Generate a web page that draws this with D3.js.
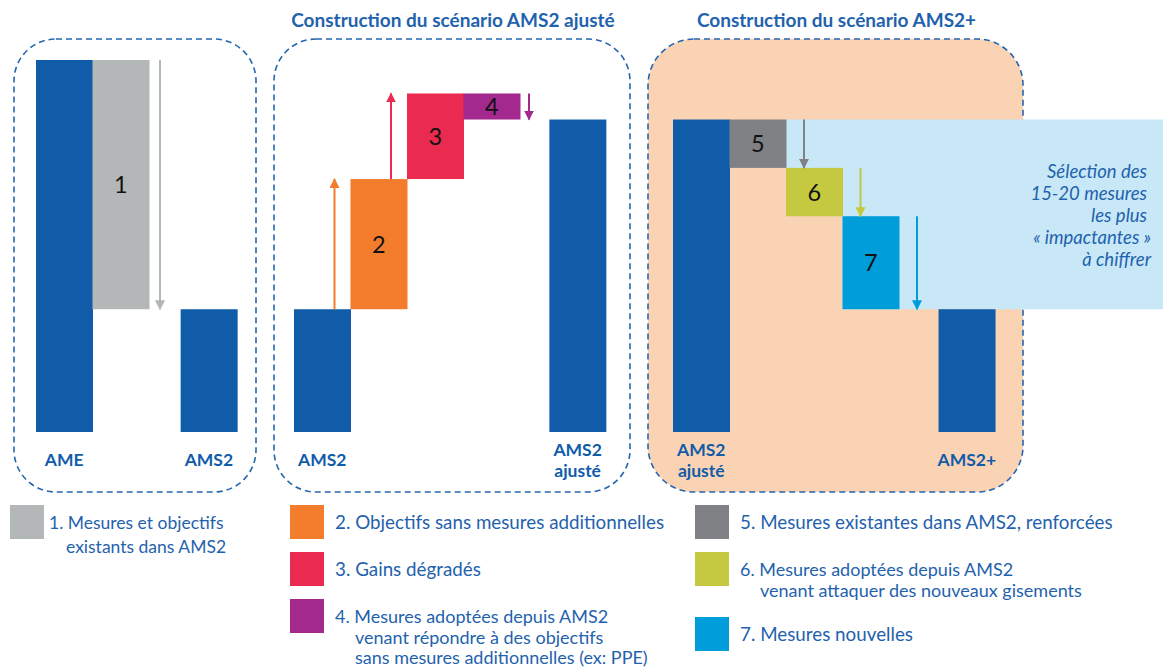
<!DOCTYPE html>
<html>
<head>
<meta charset="utf-8">
<script src="https://cdn.jsdelivr.net/npm/d3@7"></script>
<style>
  html, body { margin: 0; padding: 0; background: #fff; }
  svg { display: block; font-family: Lato, "Noto Sans", sans-serif; }
</style>
</head>
<body>
<svg class="chart" width="1163" height="667"></svg>
<script>

// --- data ---

const panelTitles = ['', 'Construction du scénario AMS2 ajusté', 'Construction du scénario AMS2+'];

// totals (start / end of each panel)
const totalNames  = [['AME', 'AMS2'], ['AMS2', 'AMS2 ajusté'], ['AMS2 ajusté', 'AMS2+']];
const totalValues = [[100, 33], [33, 84], [84, 33]];

// steps inside each panel
const stepIds    = [['1'], ['2', '3', '4'], ['5', '6', '7']];
const stepValues = [[-67], [35, 23, -7], [-13, -13, -25]];

const stepColors = {
    '1': '#b4b7b7', '2': '#f47d2d', '3': '#ea2a4e', '4': '#a3298e',
    '5': '#808184', '6': '#c5c940', '7': '#009ddb'
};

const legendLabels = [
    ['1. Mesures et objectifs', 'existants dans AMS2'],
    ['2. Objectifs sans mesures additionnelles'],
    ['3. Gains dégradés'],
    ['4. Mesures adoptées depuis AMS2', 'venant répondre à des objectifs', 'sans mesures additionnelles (ex: PPE)'],
    ['5. Mesures existantes dans AMS2, renforcées'],
    ['6. Mesures adoptées depuis AMS2', 'venant attaquer des nouveaux gisements'],
    ['7. Mesures nouvelles']
];

const noteLines = ['Sélection des', '15-20 mesures', 'les plus', '« impactantes »', 'à chiffrer'];

// --- layout ---

const BLUE = '#105ca9';
const TEXT = '#1f62ad';

const panels = [
    { x0: 14,  x1: 256,  first: 36,  slots: [1],       endSlot: 2.56, arrowGap: 11, fill: 'none' },
    { x0: 274, x1: 630,  first: 294, slots: [1, 2, 3], endSlot: 4.52, arrowGap: 9,  fill: 'none' },
    { x0: 648, x1: 1023, first: 673, slots: [1, 2, 3], endSlot: 4.7,  arrowGap: 18, fill: '#fad3b4' }
];

const barW = 56.5;
const y = d3.scaleLinear().domain([0, 100]).range([432, 60]);

const svg = d3.select('svg.chart');

const defs = svg.append('defs');
Object.entries(stepColors).forEach(([id, c]) => {
    defs.append('marker')
        .attr('id', 'arr' + id)
        .attr('viewBox', '0 0 10 10')
        .attr('refX', 9).attr('refY', 5)
        .attr('markerWidth', 5).attr('markerHeight', 5)
        .attr('markerUnits', 'strokeWidth')
        .attr('orient', 'auto')
        .append('path')
        .attr('d', 'M0,0 L10,5 L0,10 Z')
        .attr('fill', c);
});

// panel frames
panels.forEach((p, i) => {

    svg.append('rect')
        .attr('x', p.x0).attr('y', 39)
        .attr('width', p.x1 - p.x0).attr('height', 453)
        .attr('rx', i == 2 ? 46 : 42)
        .attr('fill', p.fill)
        .attr('stroke', '#2566b0')
        .attr('stroke-width', 1.6)
        .attr('stroke-dasharray', '6 4');

    if (panelTitles[i]) {
        svg.append('text')
            .attr('x', (p.x0 + p.x1) / 2 + 1)
            .attr('y', 27)
            .attr('text-anchor', 'middle')
            .attr('font-weight', 700)
            .attr('font-size', 19)
            .attr('fill', TEXT)
            .text(panelTitles[i]);
    }
});

// light blue selection band behind panel 3 steps
{
    const p = panels[2];
    const xs = d3.scaleLinear().domain([0, 1]).range([p.first, p.first + barW]);
    let level = totalValues[2][0];
    const levels = [level];
    stepValues[2].forEach(v => { level += v; levels.push(level); });

    const pts = [
        [xs(2), y(levels[0])],
        [1163, y(levels[0])],
        [1163, y(levels[3])],
        [xs(3), y(levels[3])],
        [xs(3), y(levels[1])],
        [xs(2), y(levels[1])]
    ];
    svg.append('polygon')
        .attr('points', pts.map(d => d.join(',')).join(' '))
        .attr('fill', '#c8e8f7');

    svg.append('g')
        .selectAll('text')
        .data(noteLines)
        .join('text')
        .attr('x', (d, i) => i >= 3 ? 1151 : 1147)
        .attr('y', (d, i) => 178 + i * 22)
        .attr('text-anchor', 'end')
        .attr('font-style', 'italic')
        .attr('font-size', 18.5)
        .attr('fill', TEXT)
        .text(d => d);
}

// bars
panels.forEach((p, i) => {

    const xs = d3.scaleLinear().domain([0, 1]).range([p.first, p.first + barW]);
    const g = svg.append('g');

    const startV = totalValues[i][0];
    const endV = totalValues[i][1];

    // start / end totals
    const totals = [
        { name: totalNames[i][0], v: startV, slot: 0 },
        { name: totalNames[i][1], v: endV,   slot: p.endSlot }
    ];

    g.selectAll('rect.total')
        .data(totals)
        .join('rect')
        .attr('class', 'total')
        .attr('x', d => xs(d.slot))
        .attr('y', d => y(d.v))
        .attr('width', barW + 0.5)
        .attr('height', d => y(0) - y(d.v))
        .attr('fill', BLUE);

    g.selectAll('text.total')
        .data(totals)
        .join('text')
        .attr('class', 'total')
        .attr('x', d => xs(d.slot) + barW / 2)
        .attr('y', 466)
        .attr('text-anchor', 'middle')
        .attr('font-weight', 700)
        .attr('font-size', 17.5)
        .attr('fill', BLUE)
        .each(function(d) {
            const words = d.name.split(' ');
            const t = d3.select(this);
            if (words.length == 1) { t.text(d.name); return; }
            words.forEach((w, k) => {
                t.append('tspan')
                    .attr('x', xs(d.slot) + barW / 2)
                    .attr('y', 456 + k * 21)
                    .text(w);
            });
        });

    // steps
    let level = startV;
    const steps = stepIds[i].map((id, k) => {
        const s = { id: id, from: level, to: level + stepValues[i][k], slot: p.slots[k] };
        level = s.to;
        return s;
    });

    g.selectAll('rect.step')
        .data(steps)
        .join('rect')
        .attr('class', 'step')
        .attr('x', d => xs(d.slot))
        .attr('y', d => y(Math.max(d.from, d.to)))
        .attr('width', barW + 0.5)
        .attr('height', d => Math.abs(y(d.from) - y(d.to)))
        .attr('fill', d => stepColors[d.id]);

    g.selectAll('text.step')
        .data(steps)
        .join('text')
        .attr('class', 'step')
        .attr('x', d => xs(d.slot) + barW / 2)
        .attr('y', d => (y(d.from) + y(d.to)) / 2)
        .attr('dy', '0.36em')
        .attr('text-anchor', 'middle')
        .attr('font-size', 23.5)
        .attr('fill', '#111')
        .text(d => d.id);

    // arrows: up steps on the left of the bar, down steps on the right
    g.selectAll('line.arrow')
        .data(steps)
        .join('line')
        .attr('class', 'arrow')
        .attr('x1', d => d.to > d.from ? xs(d.slot) - 16 : xs(d.slot + 1) + p.arrowGap)
        .attr('x2', d => d.to > d.from ? xs(d.slot) - 16 : xs(d.slot + 1) + p.arrowGap)
        .attr('y1', d => y(d.from))
        .attr('y2', d => y(d.to))
        .attr('stroke', d => stepColors[d.id])
        .attr('stroke-width', 2)
        .attr('marker-end', d => 'url(#arr' + d.id + ')');
});

// legend
const legendPos = [
    { x: 10,  y: 505, tx: 49,  indent: 17, size: 17.5, lh: 24 },
    { x: 290, y: 505, tx: 335, indent: 19, size: 18.8, lh: 20 },
    { x: 290, y: 552, tx: 335, indent: 19, size: 18.8, lh: 20 },
    { x: 290, y: 599, tx: 335, indent: 20, size: 18,   lh: 20.5 },
    { x: 695, y: 505, tx: 740, indent: 20, size: 18.8, lh: 20 },
    { x: 695, y: 552, tx: 740, indent: 20, size: 18,   lh: 21 },
    { x: 695, y: 617, tx: 740, indent: 20, size: 18.8, lh: 20 }
];

const legend = svg.append('g')
    .selectAll('g')
    .data(legendLabels)
    .join('g');

legend.append('rect')
    .attr('x', (d, i) => legendPos[i].x)
    .attr('y', (d, i) => legendPos[i].y)
    .attr('width', 34).attr('height', 34)
    .attr('fill', (d, i) => stepColors[String(i + 1)]);

legend.append('text')
    .attr('font-size', (d, i) => legendPos[i].size)
    .attr('fill', TEXT)
    .each(function(d, i) {
        const pos = legendPos[i];
        d3.select(this).selectAll('tspan')
            .data(d)
            .join('tspan')
            .attr('x', (s, k) => k == 0 ? pos.tx : pos.tx + pos.indent)
            .attr('y', (s, k) => pos.y + 24 + k * pos.lh)
            .text(s => s);
    });

</script>
</body>
</html>
